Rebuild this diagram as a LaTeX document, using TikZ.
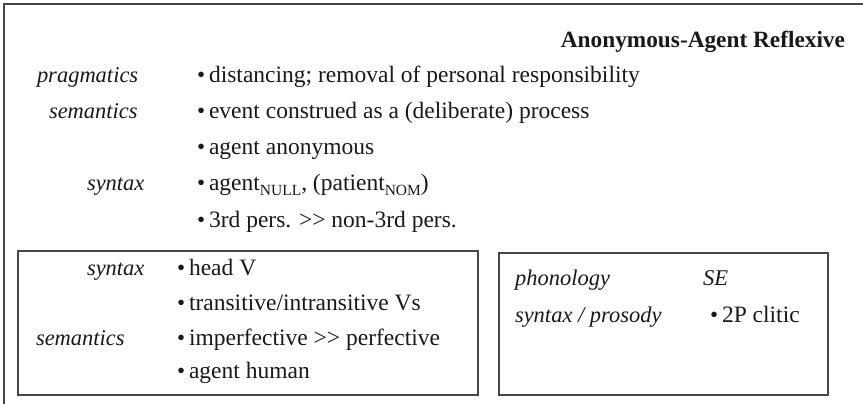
\documentclass[tikz,border=0pt]{standalone}
\usepackage{fontspec}
\setmainfont{Liberation Serif}
\newcommand{\itm}{{\fontsize{23}{23}\selectfont\textbullet}\hspace{4pt}}
\newcommand{\lowcap}[1]{\raisebox{-5pt}{\fontsize{15.5}{15.5}\selectfont #1}}
\newcommand{\dblgt}{{>}{>}}
\begin{document}
\begin{tikzpicture}[x=1pt,y=-1pt,
  txt/.style={inner sep=0pt, outer sep=0pt, anchor=base west, font=\fontsize{23.5}{28}\selectfont, text=black!90},
  lbl/.style={txt, font=\fontsize{22.5}{27}\selectfont\itshape},
  frame/.style={draw=black!72, line width=1.1pt, inner sep=0pt, outer sep=0pt, anchor=north west}]
\useasboundingbox (0,0) rectangle (863,404);

% outer frame (open to the right and below)
\draw[draw=black!72, line width=1.3pt] (863,4) -- (4,4) -- (4,404);

% inner boxes
\node[frame, minimum width=460pt, minimum height=144pt] (boxL) at (18,251) {};
\node[frame, minimum width=329pt, minimum height=142pt] (boxR) at (499,253) {};

% heading
\node[txt, anchor=base east, font=\fontsize{23.3}{28}\selectfont\bfseries] (title) at (845,48) {Anonymous-Agent Reflexive};

% upper block
\node[lbl] (pragL) at (37,83) {pragmatics};
\node[txt] (prag1) at (197,83) {\itm distancing; removal of personal responsibility};
\node[lbl] (semL) at (49,118) {semantics};
\node[txt] (sem1) at (197,118) {\itm event construed as a (deliberate) process};
\node[txt] (sem2) at (197,154) {\itm agent anonymous};
\node[lbl] (synL) at (87,190) {syntax};
\node[txt] (syn1) at (197,190) {\itm agent\lowcap{NULL}, (patient\lowcap{NOM})};
\node[txt] (syn2) at (197,227) {\itm 3rd pers. \dblgt\ non-3rd pers.};

% lower left box
\node[lbl] (lsynL) at (87,275) {syntax};
\node[txt] (lsyn1) at (177,275) {\itm head V};
\node[txt] (lsyn2) at (177,310) {\itm transitive/intransitive Vs};
\node[lbl] (lsemL) at (36,345) {semantics};
\node[txt] (lsem1) at (177,345) {\itm imperfective \dblgt\ perfective};
\node[txt] (lsem2) at (177,378) {\itm agent human};

% lower right box
\node[lbl] (phonL) at (515,285) {phonology};
\node[lbl] (phon1) at (703,285) {SE};
\node[lbl] (prosL) at (515,322) {syntax / prosody};
\node[txt] (pros1) at (710,322) {\itm 2P clitic};
\end{tikzpicture}
\end{document}
